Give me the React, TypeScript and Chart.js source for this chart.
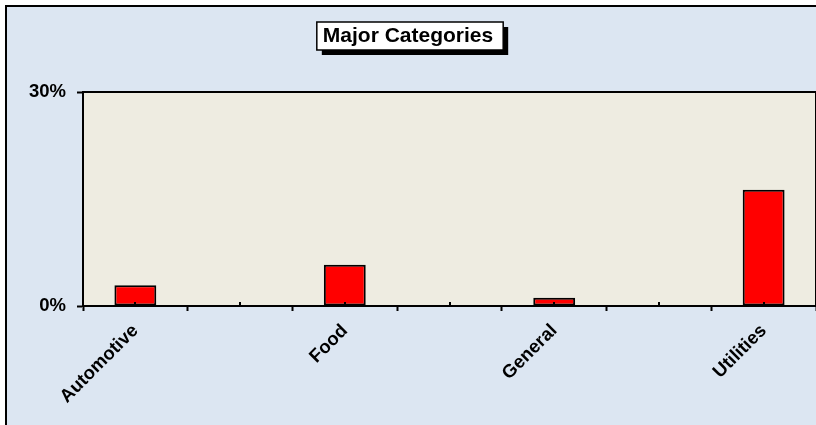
import React, { useEffect, useRef } from "react";
import { Chart, registerables } from "chart.js";

Chart.register(...registerables);

// Category slots along the x axis; unlabeled slots carry no value.
const categories = ["Automotive", "", "Food", "", "General", "", "Utilities"];
const shares: (number | null)[] = [0.029, null, 0.058, null, 0.0115, null, 0.163];
const yMin = 0;
const yMax = 0.3;
const titleText = "Major Categories";

const FONT = '"Liberation Sans", Arial, Helvetica, sans-serif';
const PAGE_BG = "#dce6f2";
const PLOT_BG = "#eeece1";
const TITLE_SIZE = 21;

// Backgrounds, outer frame, plot border and the boxed title with its drop shadow.
const framePlugin = {
  id: "frame",
  beforeDraw(chart: any) {
    const { ctx, width, height, chartArea } = chart;
    ctx.save();
    ctx.fillStyle = "#ffffff";
    ctx.fillRect(0, 0, width, height);
    ctx.fillStyle = PAGE_BG;
    ctx.fillRect(6, 6, width - 6, height - 6);
    ctx.strokeStyle = "#000";
    ctx.lineWidth = 2;
    ctx.beginPath();
    ctx.moveTo(6, height);
    ctx.lineTo(6, 6);
    ctx.lineTo(width, 6);
    ctx.stroke();

    ctx.fillStyle = PLOT_BG;
    ctx.fillRect(
      chartArea.left,
      chartArea.top,
      chartArea.right - chartArea.left,
      chartArea.bottom - chartArea.top
    );
    ctx.beginPath();
    ctx.moveTo(chartArea.left, chartArea.top);
    ctx.lineTo(chartArea.right, chartArea.top);
    ctx.lineTo(chartArea.right, chartArea.bottom);
    ctx.stroke();

    // title box
    ctx.font = `bold ${TITLE_SIZE}px ${FONT}`;
    const tw = ctx.measureText(titleText).width;
    const bw = tw + 16;
    const bh = 28;
    const bx = width / 2 + 2 - bw / 2;
    const by = 36 - bh / 2;
    ctx.fillStyle = "#000";
    ctx.fillRect(bx + 5, by + 5, bw, bh);
    ctx.fillStyle = "#fff";
    ctx.fillRect(bx, by, bw, bh);
    ctx.lineWidth = 1.5;
    ctx.strokeRect(bx, by, bw, bh);
    ctx.restore();
  },
  afterDatasetsDraw(chart: any) {
    // small inward tick marks at the category centres
    const { ctx } = chart;
    const xs = chart.scales.x;
    const bottom = chart.chartArea.bottom;
    ctx.save();
    ctx.strokeStyle = "#000";
    ctx.lineWidth = 2;
    ctx.beginPath();
    categories.forEach((_, i) => {
      const x = Math.round(xs.getPixelForValue(i));
      ctx.moveTo(x, bottom);
      ctx.lineTo(x, bottom - 4);
    });
    ctx.stroke();
    ctx.restore();
  },
};

export default function App() {
  const canvasRef = useRef<HTMLCanvasElement | null>(null);

  useEffect(() => {
    document.body.style.margin = "0";
    const canvas = canvasRef.current;
    if (!canvas) return;
    const chart = new Chart(canvas, {
      type: "bar",
      data: {
        labels: categories,
        datasets: [
          {
            data: shares,
            backgroundColor: "#ff0000",
            borderColor: "#000000",
            borderWidth: 2,
            borderSkipped: false,
            categoryPercentage: 1,
            barPercentage: 0.4,
          },
        ],
      },
      options: {
        animation: false,
        responsive: false,
        devicePixelRatio: 1,
        layout: { padding: 0 },
        plugins: {
          legend: { display: false },
          tooltip: { enabled: false },
          title: {
            display: true,
            text: titleText,
            color: "#000",
            font: { family: FONT, size: TITLE_SIZE, weight: "bold", lineHeight: 1.2 },
            padding: { top: 23.4, bottom: 43.4 },
          },
        },
        scales: {
          x: {
            type: "category",
            offset: true,
            grid: {
              display: true,
              offset: true,
              drawOnChartArea: false,
              drawTicks: true,
              tickLength: 5,
              tickWidth: 2,
              tickColor: "#000",
            },
            border: { display: true, color: "#000", width: 2 },
            ticks: {
              autoSkip: false,
              minRotation: 45,
              maxRotation: 45,
              padding: 9,
              color: "#000",
              font: { family: FONT, size: 18.5, weight: "bold" },
            },
            afterFit(scale: any) {
              scale.height = 119;
            },
          },
          y: {
            min: yMin,
            max: yMax,
            grid: {
              display: true,
              drawOnChartArea: false,
              drawTicks: true,
              tickLength: 6,
              tickWidth: 2,
              tickColor: "#000",
            },
            border: { display: true, color: "#000", width: 2 },
            ticks: {
              stepSize: yMax - yMin,
              padding: 11,
              color: "#000",
              font: { family: FONT, size: 18.5, weight: "bold" },
              callback: (v: any) => `${Math.round(Number(v) * 100)}%`,
            },
            afterFit(scale: any) {
              scale.width = 83;
            },
          },
        },
      },
      plugins: [framePlugin],
    });
    return () => chart.destroy();
  }, []);

  return (
    <div style={{ width: 816, height: 425, position: "relative" }}>
      <canvas ref={canvasRef} width={816} height={425} style={{ display: "block" }} />
    </div>
  );
}
